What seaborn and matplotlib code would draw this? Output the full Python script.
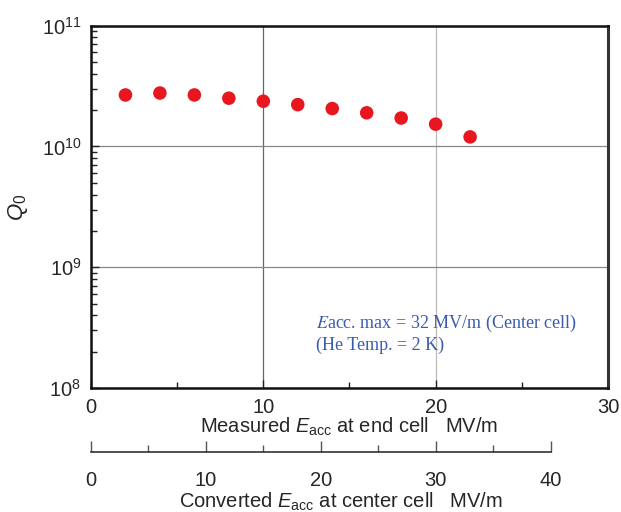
import numpy as np
import pandas as pd
import matplotlib
matplotlib.use("Agg")
import matplotlib.pyplot as plt
import seaborn as sns

# Data
eacc_end = [2, 4, 6, 8, 10, 12, 14, 16, 18, 20, 22]
q0 = [2.67e10, 2.77e10, 2.67e10, 2.51e10, 2.37e10, 2.22e10,
      2.06e10, 1.90e10, 1.72e10, 1.53e10, 1.20e10]
x_ticks = [0, 10, 20, 30]
x2_ticks = [0, 10, 20, 30, 40]
y_ticks = [1e8, 1e9, 1e10, 1e11]
y_labels = ["$10^{8}$", "$10^{9}$", "$10^{10}$", "$10^{11}$"]
center_per_end = 1.5  # converted scale factor

df = pd.DataFrame({"Eacc": eacc_end, "Q0": q0})

sns.set_style("white")
plt.rcParams["font.family"] = ["Liberation Sans", "DejaVu Sans"]
plt.rcParams["mathtext.fontset"] = "custom"
plt.rcParams["mathtext.rm"] = "Liberation Sans"
plt.rcParams["mathtext.it"] = "Liberation Sans:italic"

fig = plt.figure(figsize=(6.21, 5.12), dpi=100)
ax = fig.add_axes([0.1465, 0.2422, 0.8325, 0.7076])

sns.scatterplot(data=df, x="Eacc", y="Q0", ax=ax, color="#e8161e",
                s=95, edgecolor="none", zorder=3)

ax.set_yscale("log")
ax.set_xlim(0, 30)
ax.set_ylim(1e8, 1e11)
ax.set_xticks(x_ticks)
ax.set_xticks([5, 15, 25], minor=True)
ax.set_yticks(y_ticks)
ax.set_yticklabels(y_labels)
ax.yaxis.set_minor_locator(matplotlib.ticker.LogLocator(base=10, subs=np.arange(2, 10)))
ax.yaxis.set_minor_formatter(matplotlib.ticker.NullFormatter())

ax.tick_params(axis="both", which="both", bottom=True, left=True,
               top=False, right=False, direction="in", color="#222222")
ax.tick_params(axis="both", which="major", length=6, width=1, labelsize=14.5)
ax.tick_params(axis="both", which="minor", length=4.5, width=1)
ax.tick_params(axis="y", which="major", pad=7)
ax.tick_params(axis="x", which="major", pad=7)

ax.grid(True, which="major", linewidth=0.9)
grid_cols_x = ["#777777", "#666666", "#bbbbbb", "#777777"]
for gl, c in zip(ax.get_xgridlines(), grid_cols_x):
    gl.set_color(c)
for gl in ax.get_ygridlines():
    gl.set_color("#888888")

for side in ["left", "bottom", "top"]:
    ax.spines[side].set_color("#111111")
    ax.spines[side].set_linewidth(1.8)
ax.spines["right"].set_color("#333333")
ax.spines["right"].set_linewidth(2.2)

ax.set_xlabel(r"Measured $E_\mathrm{acc}$ at end cell   MV/m", fontsize=14.5)
ax.xaxis.set_label_coords(0.5, -0.076)
ax.set_ylabel("$Q_0$", fontsize=16)
ax.yaxis.set_label_coords(-0.118, 0.5)

ax.text(0.435, 0.178, r"$E$acc. max = 32 MV/m (Center cell)",
        transform=ax.transAxes, fontsize=13, color="#3a5bb0",
        family="Liberation Serif", math_fontfamily="stix", va="center")
ax.text(0.435, 0.118, "(He Temp. = 2 K)", transform=ax.transAxes,
        fontsize=13, color="#3a5bb0", family="Liberation Serif",
        va="center")

# secondary (converted) axis below
ax2 = fig.add_axes([0.1465, 0.1172, 0.8325, 0.0001])
ax2.set_xlim(0, 30 * center_per_end)
ax2.set_yticks([])
for side in ["left", "right", "top"]:
    ax2.spines[side].set_visible(False)
ax2.spines["bottom"].set_bounds(0, 40)
ax2.spines["bottom"].set_color("#333333")
ax2.spines["bottom"].set_linewidth(1.2)
ax2.set_xticks(x2_ticks)
ax2.set_xticks([5, 15, 25, 35], minor=True)
ax2.tick_params(axis="x", which="both", bottom=True, direction="in",
                color="#555555", width=1)
ax2.tick_params(axis="x", which="major", length=8, labelsize=14.5, pad=14)
ax2.tick_params(axis="x", which="minor", length=5)
ax2.patch.set_visible(False)
fig.text(0.549, 1 - 502 / 512,
         r"Converted $E_\mathrm{acc}$ at center cell   MV/m",
         fontsize=14.5, ha="center", va="center")

fig.savefig("out.png", dpi=100)
